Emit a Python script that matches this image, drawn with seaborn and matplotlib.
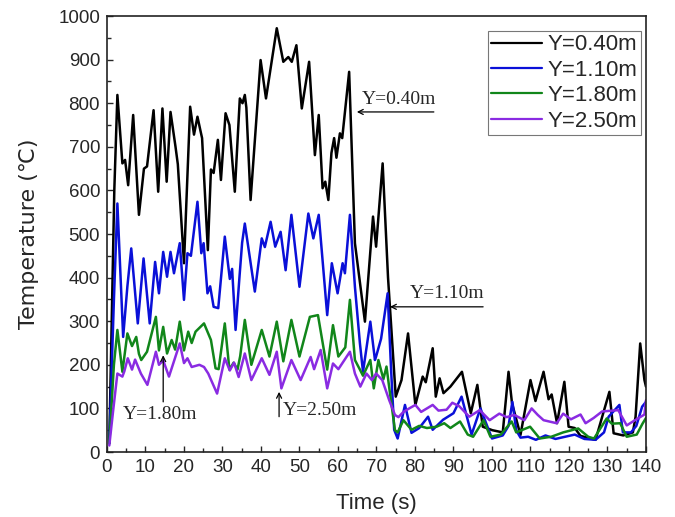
import numpy as np
import pandas as pd
import matplotlib
matplotlib.use("Agg")
import matplotlib.pyplot as plt
import seaborn as sns

# ---------------- data ----------------
series_names = ["Y=0.40m", "Y=1.10m", "Y=1.80m", "Y=2.50m"]
series_colors = ["#000000", "#0a10d8", "#11861a", "#8a2be2"]

t_040 = [0.6, 1.9, 2.7, 4.0, 4.7, 5.5, 6.8, 8.3, 9.6, 10.4, 12.1, 13.3, 14.4, 15.5, 16.5, 17.8, 18.4,
         20.0, 21.6, 22.6, 23.5, 24.3, 24.7, 26.2, 27.0, 27.7, 28.8, 29.6, 30.8, 31.8, 33.2, 34.5,
         35.2, 35.8, 36.2, 37.3, 39.9, 41.3, 44.1, 45.8, 47.1, 48.0, 49.2, 50.6, 52.5, 54.0, 55.0,
         56.0, 56.7, 57.5, 58.3, 59.0, 59.6, 60.5, 61.1, 62.9, 64.4, 67.0, 69.1, 69.9, 71.6, 73.0,
         75.0, 76.5, 78.2, 80.1, 82.0, 82.8, 84.6, 85.4, 86.4, 87.4, 89.2, 92.2, 94.5, 96.2, 97.6,
         100.1, 102.8, 104.3, 105.2, 107.4, 110.0, 111.3, 113.4, 114.7, 115.5, 116.9, 118.8, 119.9,
         121.5, 123.0, 126.9, 130.5, 131.6, 134.1, 136.6, 137.3, 138.5, 139.6, 140.0]
T_040 = [20, 600, 819, 662, 670, 612, 773, 544, 650, 655, 784, 597, 788, 620, 780, 700, 660,
         433, 792, 728, 769, 736, 720, 463, 648, 640, 716, 624, 777, 750, 597, 811,
         800, 819, 790, 578, 899, 811, 972, 895, 906, 895, 933, 788, 895, 681, 773,
         605, 620, 578, 686, 720, 675, 731, 720, 872, 479, 299, 540, 471, 662, 400,
         127, 165, 272, 108, 173, 160, 238, 127, 169, 135, 150, 184, 89, 154, 58,
         50, 45, 184, 112, 39, 165, 117, 184, 121, 132, 66, 161, 58,
         55, 37, 28, 138, 43, 38, 45, 81, 249, 165, 150]

t_110 = [0.6, 1.8, 2.7, 4.2, 5.3, 6.3, 8.0, 9.5, 11.1, 12.5, 13.5, 14.6, 15.6, 16.5, 17.4, 18.9,
         20.0, 20.9, 21.8, 23.5, 24.5, 25.1, 26.1, 26.8, 27.7, 28.9, 30.6, 31.9, 32.5, 33.4, 34.4,
         35.1, 35.8, 38.4, 40.2, 41.0, 42.5, 43.7, 45.1, 46.4, 47.9, 50.0, 52.3, 53.6, 55.0, 57.2,
         58.4, 59.9, 61.2, 61.8, 63.1, 64.4, 65.7, 66.5, 68.4, 69.6, 69.9, 71.2, 72.9, 73.8, 74.6,
         75.5, 77.4, 79.1, 81.1, 83.4, 84.6, 87.3, 90.0, 92.1, 94.7, 97.0, 100.0, 102.8, 104.3,
         105.3, 106.3, 107.4, 109.4, 111.4, 113.9, 116.5, 119.0, 121.5, 124.0, 126.9, 129.1, 130.3,
         133.1, 134.0, 136.1, 137.5, 139.0, 140.0]
T_110 = [20, 350, 570, 264, 380, 467, 295, 444, 295, 436, 364, 459, 402, 459, 410, 479,
         349, 456, 450, 574, 456, 479, 364, 380, 333, 330, 494, 397, 420, 280, 400,
         480, 524, 368, 490, 470, 528, 471, 505, 417, 544, 379, 547, 490, 544, 314,
         433, 364, 433, 410, 544, 379, 249, 184, 299, 211, 219, 260, 364, 188, 51,
         31, 108, 44, 55, 81, 51, 74, 89, 127, 40, 100, 31, 38, 60,
         115, 50, 33, 35, 28, 38, 30, 35, 40, 30, 28, 45, 81,
         108, 45, 45, 60, 104, 115]

t_180 = [0.6, 1.8, 2.7, 4.0, 5.3, 6.5, 7.6, 8.3, 8.9, 10.4, 12.7, 13.5, 14.6, 15.6, 16.8, 17.7,
         18.9, 20.0, 21.1, 22.0, 23.0, 25.2, 27.0, 28.2, 29.0, 30.6, 31.8, 32.9, 33.9, 34.6, 35.8,
         37.5, 40.2, 42.2, 44.1, 45.8, 47.9, 50.0, 52.7, 54.8, 57.2, 58.7, 60.1, 61.9, 63.1, 64.4,
         65.7, 66.5, 68.4, 69.3, 70.5, 71.8, 72.6, 73.4, 74.8, 75.5, 77.0, 79.1, 81.1, 83.1, 85.6,
         87.6, 89.2, 91.7, 93.7, 95.1, 97.8, 99.6, 102.3, 105.1, 106.3, 109.9, 112.4, 115.4, 118.5,
         122.4, 125.0, 126.5, 129.8, 131.1, 133.3, 135.0, 137.6, 139.1, 140.0]
T_180 = [20, 200, 280, 184, 272, 243, 264, 225, 211, 230, 310, 233, 287, 226, 257, 235,
         299, 233, 276, 250, 276, 295, 257, 192, 190, 295, 189, 205, 189, 220, 303,
         200, 280, 219, 299, 208, 303, 219, 310, 314, 189, 291, 219, 240, 349, 211,
         189, 175, 211, 146, 211, 167, 196, 142, 50, 45, 73, 51, 60, 55, 58,
         66, 55, 70, 40, 35, 73, 35, 40, 70, 45, 58, 31, 35, 45,
         54, 35, 31, 77, 65, 66, 35, 40, 65, 78]

t_250 = [0.6, 1.6, 2.7, 4.0, 4.5, 5.4, 6.5, 7.3, 8.8, 10.5, 12.7, 13.5, 14.6, 16.1, 18.9, 20.0,
         20.9, 22.0, 24.0, 25.2, 26.3, 28.6, 30.6, 31.9, 33.0, 34.2, 35.8, 37.5, 40.2, 42.2, 44.1,
         45.3, 47.9, 50.3, 52.9, 53.8, 55.5, 57.2, 58.7, 60.1, 63.1, 64.4, 65.8, 67.4, 68.8, 69.9,
         71.5, 73.3, 74.8, 75.7, 77.0, 78.5, 80.1, 81.6, 83.1, 84.6, 86.1, 88.2, 89.7, 91.5, 94.1,
         96.8, 99.4, 101.9, 103.8, 105.8, 108.4, 110.3, 111.9, 113.4, 116.8, 118.5, 120.5, 123.0,
         124.3, 126.4, 128.6, 132.8, 135.0, 136.6, 139.6, 140.0]
T_250 = [15, 95, 180, 173, 185, 215, 189, 212, 180, 154, 230, 200, 210, 173, 249, 204,
         215, 195, 200, 195, 180, 134, 215, 187, 205, 172, 226, 165, 215, 177, 230,
         146, 211, 165, 218, 190, 234, 146, 203, 190, 230, 180, 150, 180, 165, 180,
         165, 119, 85, 80, 92, 100, 108, 92, 100, 108, 95, 97, 113, 105, 81,
         96, 73, 88, 80, 85, 73, 100, 85, 73, 66, 88, 75, 86,
         66, 78, 93, 96, 61, 70, 86, 119]

x_ticks = list(range(0, 141, 10))
y_ticks = list(range(0, 1001, 100))

annot_labels = ["Y=0.40m", "Y=1.10m", "Y=1.80m", "Y=2.50m"]

# ---------------- build long-form table ----------------
frames = []
for name, tt, TT in zip(series_names, [t_040, t_110, t_180, t_250], [T_040, T_110, T_180, T_250]):
    frames.append(pd.DataFrame({"Time": tt, "Temp": TT, "Series": name}))
df = pd.concat(frames, ignore_index=True)

# ---------------- figure ----------------
sns.set_style("ticks")
plt.rcParams["font.family"] = ["Liberation Sans", "DejaVu Sans"]
plt.rcParams["xtick.direction"] = "in"
plt.rcParams["ytick.direction"] = "in"

fig = plt.figure(figsize=(6.75, 5.17), dpi=100)
ax = fig.add_axes([0.1585, 0.1257, 0.7985, 0.8433])

sns.lineplot(data=df, x="Time", y="Temp", hue="Series", hue_order=series_names,
             palette=series_colors, estimator=None, sort=True, linewidth=1.8, ax=ax)

ax.set_xlim(0, 140)
ax.set_ylim(0, 1000)
ax.set_xticks(x_ticks)
ax.set_yticks(y_ticks)
ax.set_xticks(list(range(5, 140, 10)), minor=True)
ax.set_yticks(list(range(50, 1000, 100)), minor=True)
ax.tick_params(axis="both", which="major", labelsize=13.5, length=4.5, width=1.0,
               top=False, right=False, pad=5)
ax.tick_params(axis="both", which="minor", length=3, width=1.0, top=False, right=False)
for sp in ax.spines.values():
    sp.set_visible(True)
    sp.set_linewidth(1.2)
    sp.set_color("#222222")

ax.set_xlabel("Time (s)", fontsize=16, labelpad=12)
ax.set_ylabel("Temperature (\u2103)", fontsize=16, labelpad=14,
              family=["DejaVu Sans"])

leg = ax.legend(loc="upper right", bbox_to_anchor=(0.9907, 0.9656), borderaxespad=0,
                fontsize=16, frameon=True, fancybox=False, handlelength=2.3,
                handletextpad=0.25, labelspacing=0.2, borderpad=0.15)
leg.get_frame().set_edgecolor("#555555")
leg.get_frame().set_linewidth(0.8)
for h in leg.get_lines():
    h.set_linewidth(1.6)

serif = ["Liberation Serif", "DejaVu Serif"]
arrow_kw = dict(arrowstyle="->", color="black", lw=0.9, shrinkA=0, shrinkB=0,
                mutation_scale=9)
ax.annotate("", xy=(64.9, 780), xytext=(84.9, 780), arrowprops=arrow_kw)
ax.text(66.2, 788, annot_labels[0], family=serif, fontsize=14, ha="left", va="bottom")
ax.annotate("", xy=(73.5, 333), xytext=(97.7, 333), arrowprops=arrow_kw)
ax.text(78.7, 343, annot_labels[1], family=serif, fontsize=14, ha="left", va="bottom")
ax.annotate("", xy=(14.6, 222), xytext=(14.6, 115), arrowprops=arrow_kw)
ax.text(13.8, 85, annot_labels[2], family=serif, fontsize=14, ha="center", va="center")
ax.annotate("", xy=(44.7, 138), xytext=(44.7, 81), arrowprops=arrow_kw)
ax.text(45.6, 96, annot_labels[3], family=serif, fontsize=14, ha="left", va="center")

fig.savefig("out.png", dpi=100)
